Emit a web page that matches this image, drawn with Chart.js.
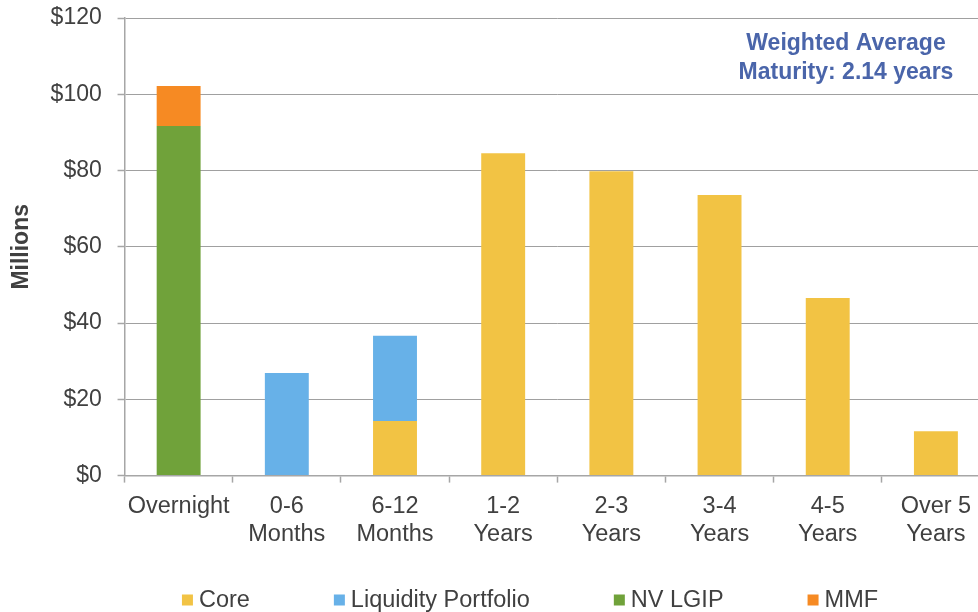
<!DOCTYPE html>
<html>
<head>
<meta charset="utf-8">
<script src="https://cdn.jsdelivr.net/npm/chart.js@4"></script>
<style>
  html, body { margin: 0; padding: 0; background: #fff; overflow: hidden; }
  #wrap { width: 1000px; height: 612px; position: relative; }
</style>
</head>
<body>
<div id="wrap"><canvas id="chart"></canvas></div>
<script>
// maturity buckets
const categories = ['Overnight', ['0-6', 'Months'], ['6-12', 'Months'], ['1-2', 'Years'],
    ['2-3', 'Years'], ['3-4', 'Years'], ['4-5', 'Years'], ['Over 5', 'Years']];

// $ millions
const core      = [0, 0, 14.3, 84.5, 79.8, 73.6, 46.6, 11.6];
const liquidity = [0, 26.9, 22.4, 0, 0, 0, 0, 0];
const nvLgip    = [91.7, 0, 0, 0, 0, 0, 0, 0];
const mmf       = [10.5, 0, 0, 0, 0, 0, 0, 0];

const yTicks = [0, 20, 40, 60, 80, 100, 120];
const noteLines = ['Weighted Average', 'Maturity: 2.14 years'];

const FONT = '"Liberation Sans", Arial, sans-serif';
const textColor = '#404040';
const axisColor = '#a6a6a6';

// draws the note box and the spaced-out legend along the bottom
const overlay = {
    id: 'overlay',
    afterDraw(chart) {
        const ctx = chart.ctx;
        ctx.save();
        ctx.font = 'bold 23px ' + FONT;
        ctx.fillStyle = '#4a65aa';
        ctx.textAlign = 'center';
        ctx.textBaseline = 'middle';
        noteLines.forEach((t, i) => ctx.fillText(t, 846, 44 + i * 29));

        ctx.font = '23.5px ' + FONT;
        ctx.textAlign = 'left';
        const items = chart.data.datasets.map(d => ({
            label: d.label, color: d.backgroundColor, w: ctx.measureText(d.label).width
        }));
        const gap = 84, box = 11, boxGap = 6;
        const total = items.reduce((s, it) => s + box + boxGap + it.w, 0) + gap * (items.length - 1);
        let x = 530 - total / 2;
        const y = 600;
        items.forEach(it => {
            ctx.fillStyle = it.color;
            ctx.fillRect(x, y - box / 2, box, box);
            ctx.fillStyle = textColor;
            ctx.fillText(it.label, x + box + boxGap, y + 1);
            x += box + boxGap + it.w + gap;
        });
        ctx.restore();
    }
};

new Chart(document.getElementById('chart'), {
    type: 'bar',
    data: {
        labels: categories,
        datasets: [
            { label: 'Core', data: core, backgroundColor: '#f2c344' },
            { label: 'Liquidity Portfolio', data: liquidity, backgroundColor: '#67b1e8' },
            { label: 'NV LGIP', data: nvLgip, backgroundColor: '#70a23a' },
            { label: 'MMF', data: mmf, backgroundColor: '#f68a23' }
        ]
    },
    options: {
        responsive: true,
        maintainAspectRatio: false,
        animation: false,
        layout: { padding: { top: 18, right: 10, bottom: 53, left: 0 } },
        datasets: { bar: { categoryPercentage: 1, barPercentage: 0.406 } },
        plugins: { legend: { display: false }, tooltip: { enabled: false } },
        scales: {
            x: {
                stacked: true,
                border: { display: true, color: axisColor, width: 1.5 },
                grid: { drawOnChartArea: false, drawTicks: true, tickLength: 7, tickColor: axisColor, tickWidth: 1.5 },
                ticks: { color: textColor, font: { family: FONT, size: 23.5 }, padding: 10, maxRotation: 0, autoSkip: false }
            },
            y: {
                stacked: true,
                min: 0,
                max: 120,
                afterBuildTicks: axis => { axis.ticks = yTicks.map(v => ({ value: v })); },
                border: { display: true, color: axisColor, width: 1.5 },
                grid: {
                    color: '#a0a0a0', lineWidth: 1, borderDash: [1, 1],
                    drawTicks: true, tickLength: 7, tickColor: axisColor, tickWidth: 1.5, tickBorderDash: []
                },
                // small padding keeps the plot top at the $120 line; trailing spaces push the text left
                ticks: { color: textColor, font: { family: FONT, size: 23 }, padding: 3, callback: v => '$' + v + '  ' },
                title: {
                    display: true, text: 'Millions', color: textColor,
                    font: { family: FONT, size: 23, weight: 'bold' },
                    padding: { top: 8, bottom: 12 }
                }
            }
        }
    },
    plugins: [overlay]
});
</script>
</body>
</html>
